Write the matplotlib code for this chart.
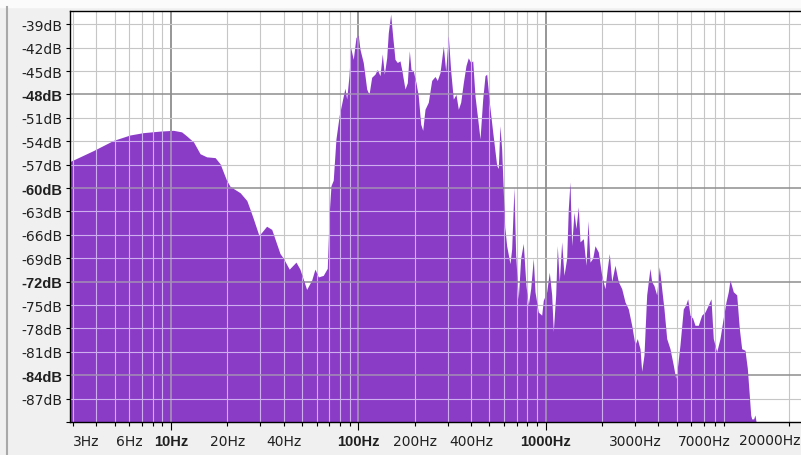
import matplotlib
matplotlib.use("Agg")
import matplotlib.pyplot as plt
from matplotlib.lines import Line2D
from matplotlib.patches import Rectangle
from matplotlib.ticker import NullFormatter

# spectrum: frequency (Hz) and level (dB)
freq_hz = [
    2.89, 3.85, 4.92, 6.04, 7.11, 8.74, 10.3, 11.4, 12.1, 13.2, 14.3, 15.5,
    17.2, 18.3, 19.8, 20.7, 23.4, 25.4, 26.4, 27.5, 29.5, 32.4, 34.5, 38.2,
    39.8, 42.8, 46.5, 48.8, 53.0, 56.4, 58.7, 61.2, 65.0, 68.3, 70.0, 71.5,
    73.5, 76.0, 79.1, 82.5, 84.9, 86.7, 89.2, 91.1, 94.0, 97.2, 100, 102.1,
    106.3, 110.9, 114.1, 117.9, 122.8, 126.3, 130.6, 134.3, 137.7, 141.8,
    144.6, 148.9, 152.6, 157.0, 161.5, 167.0, 170.5, 177.6, 182.7, 187.3,
    191.2, 196.7, 203.3, 209.1, 215.4, 220.8, 227.1, 236.5, 246.6, 256.8,
    264.1, 273.1, 284.4, 292.9, 302.4, 311.5, 321.6, 332.4, 342.0, 352.2,
    363.7, 375.8, 386.6, 398.2, 408.2, 419.9, 432.0, 446.6, 461.6, 474.8,
    484.8, 500.6, 521.9, 548.2, 559.1, 570.6, 582.7, 593, 605, 619.8, 645.4,
    659.1, 678.0, 692.3, 714.8, 736.2, 760.2, 785.8, 808.4, 832.6, 859.7,
    877.9, 914.1, 953.2, 972.1, 1013.6, 1046.5, 1077.9, 1099.3, 1132.2,
    1154.6, 1183.4, 1218.8, 1253.8, 1296.1, 1321.7, 1349.7, 1378.2, 1417.8,
    1453.2, 1494.7, 1526.6, 1589.7, 1643.3, 1684.3, 1726.3, 1784.5, 1835.5,
    1911.8, 1993.3, 2075.9, 2135.5, 2188.7, 2254.2, 2347.4, 2444.5, 2549.1,
    2654.5, 2764.3, 2882.5, 3001.6, 3087.8, 3191.9, 3259.5, 3352.5, 3465,
    3608, 3684, 3790, 3918, 4046, 4167, 4287, 4432, 4615, 4806, 4950, 5074,
    5219, 5435, 5598, 5738, 5902, 6101, 6275, 6535, 6814, 7096, 7390, 7640,
    7858, 8194, 8534, 8821, 9186, 9450, 9650, 10050, 10480, 10820, 11140,
    11600, 11940, 12230, 12450, 12600, 12900, 13120, 13300, 23100,
]
level_db = [
    -56.6, -55.2, -53.9, -53.2, -52.9, -52.7, -52.6, -52.8, -53.3, -54.1,
    -55.6, -56.0, -56.1, -56.9, -59.0, -59.8, -60.6, -61.6, -62.7, -63.9,
    -66.1, -64.9, -65.3, -68.4, -69.0, -70.4, -69.5, -70.4, -73.0, -71.8,
    -70.4, -71.4, -71.2, -70.3, -63.1, -59.7, -59.0, -53.7, -50.7, -48.6,
    -47.2, -48.6, -45.6, -42.0, -43.5, -40.7, -40.4, -42.2, -43.9, -47.3,
    -48.0, -45.8, -45.4, -44.8, -45.6, -42.8, -45.4, -43.3, -40.1, -37.7,
    -40.5, -43.5, -43.9, -43.7, -44.8, -47.3, -46.5, -42.4, -44.8, -45.0,
    -46.5, -48.2, -51.8, -52.6, -49.9, -49.0, -46.2, -45.7, -46.2, -45.2,
    -41.8, -45.0, -40.5, -45.0, -48.6, -48.0, -49.9, -49.0, -46.5, -44.3,
    -43.3, -43.9, -43.7, -48.2, -50.7, -53.7, -48.6, -45.6, -45.4, -49.0,
    -52.8, -57.1, -57.5, -52.0, -55.0, -59.7, -65.0, -67.4, -69.7, -67.8,
    -59.9, -68.6, -74.2, -69.0, -67.1, -72.5, -75.0, -72.9, -69.0, -73.3,
    -75.9, -76.3, -74.4, -73.3, -70.8, -73.7, -78.4, -73.7, -67.4, -72.0,
    -66.9, -71.2, -69.0, -62.7, -59.2, -67.4, -63.1, -65.2, -62.4, -66.9,
    -66.5, -69.9, -64.2, -69.5, -69.0, -67.4, -68.2, -71.2, -72.9, -70.3,
    -68.4, -72.0, -69.9, -72.0, -72.9, -74.6, -75.5, -77.6, -80.1, -79.3,
    -80.6, -83.5, -81.4, -73.7, -70.3, -72.0, -72.5, -73.7, -70.1, -72.9,
    -75.5, -79.3, -80.6, -82.7, -84.4, -82.7, -80.1, -75.5, -75.0, -74.2,
    -76.3, -76.7, -77.6, -77.6, -76.3, -75.9, -75.0, -74.2, -79.3, -81.0,
    -79.3, -77.1, -74.6, -73.3, -71.8, -73.3, -73.7, -78.0, -80.6, -80.8,
    -83.1, -86.5, -89.1, -89.6, -89.6, -89.1, -90.0, -90.0,
]

# axis ticks / grid
grid_hz = [3, 4, 5, 6, 7, 8, 9, 10, 20, 30, 40, 50, 60, 70, 80, 90,
           100, 200, 300, 400, 500, 600, 700, 800, 900,
           1000, 2000, 3000, 4000, 5000, 6000, 7000, 8000, 9000, 20000]
label_hz = [3, 6, 10, 20, 40, 100, 200, 400, 1000, 3000, 7000, 20000]
decade_hz = [10, 100, 1000]
db_ticks = [-39, -42, -45, -48, -51, -54, -57, -60, -63, -66, -69, -72,
            -75, -78, -81, -84, -87]
bold_db = [-48, -60, -72, -84]

purple = '#8a3cc7'
W, H = 801, 456

fig = plt.figure(figsize=(W / 100, H / 100), dpi=100, facecolor='#f0f0f0')
fig.add_artist(Rectangle((0, 1 - 8 / H), 1, 8 / H, transform=fig.transFigure,
                         color='#fbfbfb', zorder=0))
fig.add_artist(Line2D([7 / W, 7 / W], [0, 1 - 8 / H], transform=fig.transFigure,
                      color='#a8a8a8', lw=1.5))

ax = fig.add_axes([70 / W, 33 / H, (W - 70) / W, 411 / H])
ax.set_facecolor('white')
ax.set_xscale('log')
ax.set_xlim(2.89, 23100)
ax.set_ylim(-90, -37.3)

poly = ax.fill_between(freq_hz, level_db, -90, color=purple, lw=0, zorder=2)
clip = poly.get_paths()[0]

# grid: grey on white, light lilac where it crosses the spectrum
for f in grid_hz:
    major = f in decade_hz
    lw = 1.3 if major else 0.8
    ax.axvline(f, color='#8e8e8e' if major else '#c6c6c6', lw=lw, zorder=1)
    ln = ax.axvline(f, color='#a38fb5' if major else '#cfaef0', lw=lw, zorder=3)
    ln.set_clip_path(clip, ax.transData)
for d in db_ticks:
    major = d in bold_db
    lw = 1.1 if major else 0.8
    ax.axhline(d, color='#8e8e8e' if major else '#c6c6c6', lw=lw, zorder=1)
    ln = ax.axhline(d, color='#a38fb5' if major else '#cfaef0', lw=lw, zorder=3)
    ln.set_clip_path(clip, ax.transData)

# the last label is pushed left so it fits in the window, as in the ruler
xlabels = [f'{v}Hz' if v != label_hz[-1] else '' for v in label_hz]
ax.set_xticks(label_hz, xlabels)
ax.set_xticks([f for f in grid_hz if f not in label_hz], minor=True)
ax.xaxis.set_minor_formatter(NullFormatter())
ax.set_yticks(db_ticks + [-90], [f'{v}dB' for v in db_ticks] + [''])
ax.tick_params(axis='x', which='both', direction='out', length=3, width=0.8,
               color='black', pad=5.5, labelsize=10, labelcolor='#202020')
ax.tick_params(axis='y', direction='out', length=3, width=0.8,
               color='black', pad=2.4, labelsize=10, labelcolor='#202020')
ax.annotate(f'{label_hz[-1]}Hz', xy=(1, 0), xycoords='axes fraction',
            xytext=(-0.5, -7.7), textcoords='offset points',
            ha='right', va='top', fontsize=10, color='#202020')

for lbl in ax.get_xticklabels():
    if lbl.get_text() in [f'{v}Hz' for v in decade_hz]:
        lbl.set_fontfamily('Liberation Sans')
        lbl.set_fontweight('bold')
        lbl.set_fontsize(10.5)
    if lbl.get_text() == '3Hz':
        lbl.set_horizontalalignment('left')
for lbl in ax.get_yticklabels():
    if lbl.get_text() in [f'{v}dB' for v in bold_db]:
        lbl.set_fontfamily('Liberation Sans')
        lbl.set_fontweight('bold')
        lbl.set_fontsize(10.5)
for t in ax.xaxis.get_major_ticks():
    if t.get_loc() in decade_hz:
        t.tick1line.set_markersize(6)

ax.spines['right'].set_visible(False)
for s in ['top', 'left', 'bottom']:
    ax.spines[s].set_color('black')
    ax.spines[s].set_linewidth(1)
    ax.spines[s].set_zorder(4)

fig.savefig('out.png', dpi=100, facecolor=fig.get_facecolor())
